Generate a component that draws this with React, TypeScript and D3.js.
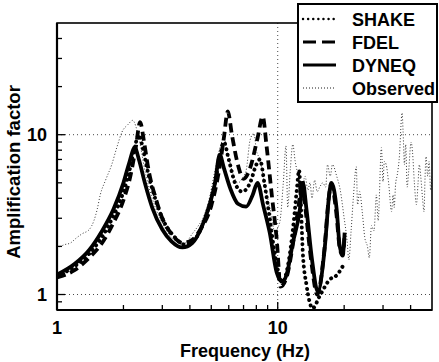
import React from "react";
import * as d3 from "d3";

// ---- Data ----
const dyneqFreq = [1, 1.2, 1.4, 1.6, 1.8, 2.0, 2.12, 2.25, 2.35, 2.5, 2.7, 3.0, 3.3, 3.7, 4.1, 4.5, 4.9, 5.2, 5.46, 5.7, 6.1, 6.6, 7.2, 7.7, 8.1, 8.6, 9.2, 9.9, 10.5, 11.0, 11.7, 12.6, 13.0, 13.5, 14.3, 15.2, 16.3, 17.2, 17.5, 18.5, 19.1, 19.7, 20.1];
const dyneqAmp = [1.33, 1.55, 1.9, 2.5, 3.4, 5.0, 6.6, 8.3, 7.0, 5.0, 3.5, 2.55, 2.15, 1.97, 2.1, 2.6, 3.6, 5.0, 7.5, 6.2, 4.6, 3.7, 3.55, 4.2, 5.0, 3.6, 2.44, 1.37, 1.2, 1.35, 2.1, 3.4, 5.0, 3.4, 1.65, 1.04, 1.9, 4.5, 5.0, 3.4, 2.0, 1.78, 2.44];

const fdelFreq = [1, 1.2, 1.4, 1.6, 1.8, 2.0, 2.15, 2.28, 2.38, 2.48, 2.6, 2.8, 3.0, 3.3, 3.7, 4.1, 4.5, 5.0, 5.4, 5.7, 5.94, 6.2, 6.6, 7.0, 7.5, 8.1, 8.55, 8.9, 9.4, 9.9, 10.3, 11.0, 11.8, 12.5, 12.9, 13.4, 14.2, 15.1, 16.2, 17.1, 17.5, 18.4, 19.1, 19.7, 20.1];
const fdelAmp = [1.28, 1.42, 1.7, 2.1, 2.8, 3.9, 5.5, 8.5, 12.0, 9.0, 6.0, 4.0, 3.0, 2.4, 2.1, 2.2, 2.6, 3.6, 5.8, 9.5, 14.0, 10.0, 6.5, 5.3, 6.2, 9.5, 13.0, 8.5, 4.2, 2.2, 1.12, 1.3, 2.2, 3.8, 5.2, 3.3, 1.6, 1.0, 1.8, 4.2, 4.9, 3.3, 1.95, 1.75, 2.4];

const shakeFreq = [1, 1.2, 1.4, 1.6, 1.8, 2.0, 2.15, 2.27, 2.35, 2.45, 2.6, 2.8, 3.0, 3.4, 3.8, 4.2, 4.6, 5.0, 5.4, 5.7, 6.0, 6.4, 6.9, 7.5, 8.0, 8.3, 8.7, 9.2, 9.7, 10.5, 11.2, 11.8, 12.2, 12.5, 12.75, 13.0, 13.5, 14.4, 15.5, 17.2, 18.5, 19.7];
const shakeAmp = [1.3, 1.5, 1.8, 2.3, 3.1, 4.4, 6.3, 8.8, 10.0, 8.2, 5.6, 3.9, 3.0, 2.3, 2.05, 2.2, 2.8, 4.0, 6.5, 9.0, 7.0, 5.0, 4.4, 5.0, 6.5, 7.0, 5.0, 3.0, 1.8, 1.2, 1.6, 2.8, 4.5, 6.0, 3.5, 1.8, 1.15, 0.82, 0.98, 1.24, 1.32, 1.5];

const obsFreq = [1.0, 1.08, 1.15, 1.22, 1.3, 1.4, 1.47, 1.52, 1.57, 1.66, 1.77, 1.87, 1.97, 2.1, 2.2, 2.35, 2.5, 2.7, 3.0, 3.4, 3.8, 4.1, 4.34, 4.58, 4.9, 5.2, 5.5, 5.7, 5.9, 6.2, 6.6, 7.0, 7.2, 7.5, 7.8, 8.0, 8.3, 8.7, 9.2, 9.7, 10.2, 10.6, 10.9, 11.1, 11.4, 11.7, 12.0, 12.4, 12.8, 13.3, 13.7, 14.0, 14.3, 14.7, 15.1, 15.5, 16.0, 16.5, 16.8, 17.3, 17.7, 18.5, 19.2, 20.0, 20.6, 21.0, 21.5, 22.0, 22.7, 23.0, 23.5, 24.2, 24.8, 25.5, 26.0, 26.6, 27.3, 28.0, 28.5, 29.5, 30.0, 30.4, 31.0, 31.8, 32.8, 33.3, 33.7, 34.2, 34.8, 35.5, 36.6, 37.0, 37.5, 38.0, 38.6, 39.2, 40.2, 40.8, 41.6, 42.5, 43.2, 43.8, 44.5, 45.3, 46.0, 46.5, 47.0, 47.8, 48.5, 49.3, 50.0];
const obsAmp = [1.95, 2.05, 2.1, 2.25, 2.4, 2.55, 2.9, 3.4, 4.2, 5.2, 6.5, 8.4, 10.4, 11.6, 12.3, 9.5, 6.0, 4.0, 2.8, 2.2, 2.1, 2.4, 2.66, 3.0, 4.0, 6.0, 8.5, 9.5, 8.0, 6.0, 5.0, 5.5, 6.0, 9.3, 10.2, 8.0, 7.0, 5.0, 3.5, 2.5, 2.8, 5.0, 8.5, 3.5, 6.0, 8.7, 6.8, 5.5, 4.5, 5.5, 4.5, 5.0, 4.0, 5.2, 4.4, 4.7, 5.0, 4.7, 6.5, 5.5, 6.5, 5.5, 4.5, 3.0, 2.2, 1.65, 2.5, 4.0, 6.3, 3.65, 4.4, 3.2, 2.27, 2.0, 1.7, 2.7, 2.5, 4.2, 2.9, 8.3, 5.1, 6.8, 6.5, 5.0, 3.3, 4.2, 3.5, 4.9, 5.6, 7.0, 13.7, 10.3, 6.5, 8.7, 4.7, 5.9, 9.0, 7.8, 5.0, 3.65, 4.9, 6.5, 5.4, 4.0, 3.3, 5.4, 7.3, 5.5, 6.8, 4.5, 5.5];

const legendLabels = ["SHAKE", "FDEL", "DYNEQ", "Observed"];
const xTickLabels = ["1", "10"];
const yTickLabels = ["1", "10"];

const W = 439;
const H = 362;
const M = { left: 57, right: 432, top: 23, bottom: 310 };
const FONT = "'Liberation Sans', Arial, Helvetica, sans-serif";

export default function App() {
  const x = d3.scaleLog().domain([1, 50]).range([M.left, M.right]);
  const y = d3.scaleLog().domain([0.8, 50]).range([M.bottom, M.top]);

  const mk = (fs: number[], as: number[]) =>
    d3
      .line<number>()
      .x((_, i) => x(fs[i]))
      .y((_, i) => y(as[i]))
      .curve(d3.curveMonotoneX)(fs);

  const series = [
    { d: mk(obsFreq, obsAmp), stroke: "#222", w: 0.9, dash: "1 2", cap: "butt" },
    { d: mk(dyneqFreq, dyneqAmp), stroke: "#000", w: 3.8, dash: undefined, cap: "butt" },
    { d: mk(fdelFreq, fdelAmp), stroke: "#000", w: 3.8, dash: "9 5", cap: "butt" },
    { d: mk(shakeFreq, shakeAmp), stroke: "#000", w: 3.9, dash: "0.1 5.5", cap: "round" },
  ];

  const xMinor = [2, 3, 4, 5, 6, 7, 8, 9, 20, 30, 40];
  const yMinor = [0.9, 2, 3, 4, 5, 6, 7, 8, 9, 20, 30, 40];
  const xMajor = [1, 10];
  const yMajor = [1, 10];

  const legendY = [19, 42, 65, 88];
  const legendStyles = [
    { w: 2.4, dash: "0.1 5", cap: "round" },
    { w: 3.2, dash: "13 6", cap: "butt" },
    { w: 3.2, dash: undefined, cap: "butt" },
    { w: 0.9, dash: "1 2", cap: "butt" },
  ];

  return (
    <svg
      width={W}
      height={H}
      style={{ position: "absolute", left: 0, top: 0, background: "#fff" }}
      fontFamily={FONT}
    >
      <defs>
        <clipPath id="plot">
          <rect x={M.left} y={M.top} width={M.right - M.left} height={M.bottom - M.top} />
        </clipPath>
      </defs>
      <rect x={0} y={0} width={W} height={H} fill="#fff" />

      {/* grid lines */}
      {yMajor.map((v) => (
        <line key={"gy" + v} x1={M.left} x2={M.right} y1={y(v)} y2={y(v)} stroke="#333" strokeWidth={0.9} strokeDasharray="1 3" />
      ))}
      <line x1={x(10)} x2={x(10)} y1={M.top} y2={M.bottom} stroke="#333" strokeWidth={0.9} strokeDasharray="1 3" />

      {/* series */}
      <g clipPath="url(#plot)">
        {series.map((s, i) => (
          <path key={i} d={s.d || ""} fill="none" stroke={s.stroke} strokeWidth={s.w} strokeDasharray={s.dash} strokeLinecap={s.cap as any} strokeLinejoin="round" />
        ))}
      </g>

      {/* frame */}
      <rect x={M.left} y={M.top} width={M.right - M.left} height={M.bottom - M.top} fill="none" stroke="#000" strokeWidth={1.6} />
      <line x1={M.left} x2={M.left} y1={M.top} y2={M.bottom} stroke="#000" strokeWidth={2.2} />
      <line x1={M.left} x2={M.right} y1={M.bottom} y2={M.bottom} stroke="#000" strokeWidth={2.2} />

      {/* ticks */}
      {xMinor.map((v) => (
        <line key={"xm" + v} x1={x(v)} x2={x(v)} y1={M.bottom} y2={M.bottom - 5} stroke="#000" strokeWidth={1.3} />
      ))}
      {xMajor.map((v) => (
        <line key={"xM" + v} x1={x(v)} x2={x(v)} y1={M.bottom} y2={M.bottom - 8} stroke="#000" strokeWidth={1.3} />
      ))}
      {yMinor.map((v) => (
        <line key={"ym" + v} x1={M.left} x2={M.left + 5} y1={y(v)} y2={y(v)} stroke="#000" strokeWidth={1.3} />
      ))}
      {yMajor.map((v) => (
        <line key={"yM" + v} x1={M.left} x2={M.left + 8} y1={y(v)} y2={y(v)} stroke="#000" strokeWidth={1.3} />
      ))}

      {/* tick labels */}
      {xMajor.map((v, i) => (
        <text key={"xl" + v} x={x(v)} y={334} textAnchor="middle" fontSize={18} fontWeight="bold">
          {xTickLabels[i]}
        </text>
      ))}
      {yMajor.map((v, i) => (
        <text key={"yl" + v} x={47} y={y(v) + 6.5} textAnchor="end" fontSize={18} fontWeight="bold">
          {yTickLabels[i]}
        </text>
      ))}

      {/* axis titles */}
      <text x={245} y={357} textAnchor="middle" fontSize={18} fontWeight="bold">
        Frequency (Hz)
      </text>
      <text transform={`translate(20,${172}) rotate(-90)`} textAnchor="middle" fontSize={18.5} fontWeight="bold">
        Amplification factor
      </text>

      {/* legend */}
      <rect x={298} y={4} width={139} height={98} fill="#fff" stroke="#000" strokeWidth={2} />
      {legendLabels.map((lab, i) => (
        <g key={lab}>
          <line x1={303} x2={336} y1={legendY[i]} y2={legendY[i]} stroke="#000" strokeWidth={legendStyles[i].w} strokeDasharray={legendStyles[i].dash} strokeLinecap={legendStyles[i].cap as any} />
          <text x={352} y={legendY[i] + 6.5} fontSize={18} fontWeight="bold">
            {lab}
          </text>
        </g>
      ))}
    </svg>
  );
}
